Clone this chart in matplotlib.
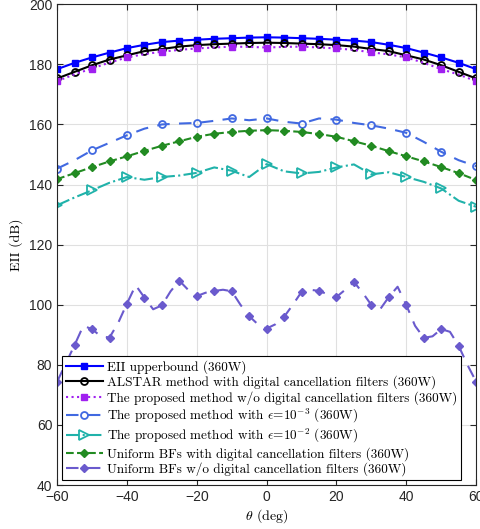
import numpy as np
import matplotlib.pyplot as plt

plt.rcParams['mathtext.fontset'] = 'cm'

# angle grid (deg), one value every 5 deg
theta = np.arange(-60, 61, 5)

eii_ub = [178.4, 180.5, 182.3, 183.9, 185.4, 186.5, 187.4, 187.9, 188.2, 188.5, 188.7, 188.9, 189.0,
          188.9, 188.7, 188.5, 188.2, 187.9, 187.4, 186.5, 185.4, 183.9, 182.3, 180.5, 178.4]
alstar = [175.3, 177.5, 179.7, 181.6, 183.0, 184.4, 185.1, 185.9, 186.4, 186.7, 186.9, 187.1, 187.2,
          187.1, 186.9, 186.7, 186.4, 185.9, 185.1, 184.4, 183.0, 181.6, 179.7, 177.5, 175.3]
prop_wo = [174.4, 176.7, 178.6, 180.6, 182.3, 183.4, 184.2, 184.8, 185.3, 185.6, 185.9, 185.8, 185.6,
           185.8, 185.9, 185.6, 185.3, 184.8, 184.0, 183.3, 182.3, 180.5, 178.4, 176.6, 174.4]
prop_e3 = [145.3, 148.1, 151.4, 153.9, 156.4, 158.6, 160.0, 160.3, 160.5, 161.2, 162.0, 161.4, 162.0,
           160.9, 160.3, 162.0, 161.6, 160.5, 159.7, 158.6, 157.2, 154.2, 150.9, 148.1, 146.1]
prop_e2 = [133.1, 135.7, 138.1, 140.6, 142.5, 141.6, 142.5, 143.0, 143.9, 145.7, 144.6, 142.5, 146.8,
           144.4, 143.7, 144.2, 145.7, 146.7, 143.4, 144.1, 142.5, 140.9, 138.7, 134.6, 132.6]
unif_with = [141.8, 143.8, 145.8, 147.7, 149.4, 151.2, 152.9, 154.4, 155.9, 156.9, 157.5, 157.9, 158.1,
             157.9, 157.5, 156.8, 155.9, 154.4, 152.9, 151.1, 149.4, 147.7, 145.8, 143.8, 141.5]

# uniform BFs w/o filters, read every 2.5 deg (curve wiggles between markers)
theta_f = np.arange(-60, 60.1, 2.5)
unif_wo = [74.4, 80.5, 86.6, 93.0, 91.9, 89.5, 89.1, 94.0, 100.4, 106.5, 102.4, 98.5, 99.8, 104.5,
           108.0, 105.0, 102.9, 104.0, 104.6, 105.0, 104.5, 100.0, 96.2, 93.5, 92.1, 93.5, 96.0, 100.0,
           104.3, 105.0, 104.6, 103.5, 102.6, 105.0, 107.6, 104.0, 99.9, 98.5, 102.6, 106.0, 99.9, 93.0,
           89.0, 89.5, 91.9, 91.0, 86.3, 80.0, 74.4]

labels = ['EII upperbound (360W)',
          'ALSTAR method with digital cancellation filters (360W)',
          'The proposed method w/o digital cancellation filters (360W)',
          r'The proposed method with $\epsilon$=10$^{-3}$ (360W)',
          r'The proposed method with $\epsilon$=10$^{-2}$ (360W)',
          'Uniform BFs with digital cancellation filters (360W)',
          'Uniform BFs w/o digital cancellation filters (360W)']

fig = plt.figure(figsize=(4.8, 5.29), dpi=100)
ax = fig.add_axes([0.119, 0.083, 0.873, 0.909])

lw = 1.5
ax.plot(theta, eii_ub, '-s', color='#0000ff', lw=lw, ms=4, mfc='#0000ff', label=labels[0])
ax.plot(theta, alstar, '-o', color='black', lw=lw, ms=5, mfc='none', mew=1.3, label=labels[1])
ax.plot(theta, prop_wo, ':s', color='#a020f0', lw=lw, ms=4, mfc='#a020f0', markevery=2, label=labels[2])
ax.plot(theta, prop_e3, '--o', color='#4169e1', lw=lw, ms=5, mfc='none', mew=1.3, markevery=2,
        dashes=(6, 4.5), label=labels[3])
ax.plot(theta, prop_e2, '-.>', color='#20b2aa', lw=lw, ms=6.5, mfc='none', mew=1.3, markevery=2,
        label=labels[4])
ax.plot(theta, unif_with, '--D', color='#228b22', lw=lw, ms=4, mfc='#228b22', label=labels[5])
ax.plot(theta_f, unif_wo, '--D', color='#6a5acd', lw=lw, ms=4.5, mfc='#6a5acd', markevery=2,
        dashes=(6, 4.5), label=labels[6])

ax.set_xlim(-60, 60)
ax.set_ylim(40, 200)
ax.set_xticks(np.arange(-60, 61, 20))
ax.set_yticks(np.arange(40, 201, 20))
ax.grid(True, color='#e0e0e0', lw=0.8)
ax.set_axisbelow(True)
ax.tick_params(direction='in', top=True, right=True, labelsize=10, length=4, colors='#262626')
for t in ax.get_xticklabels() + ax.get_yticklabels():
    t.set_fontfamily('Liberation Sans')
for s in ax.spines.values():
    s.set_color('#262626')
    s.set_linewidth(0.8)

ax.set_xlabel(r'$\theta$ (deg)', fontsize=10, family='cmr10', labelpad=2)
ax.set_ylabel('EII (dB)', fontsize=10, family='cmr10', labelpad=4)

leg = ax.legend(loc='upper left', bbox_to_anchor=(0.012, 0.268), prop={'family': 'cmr10', 'size': 9.5},
                handlelength=2.8, handletextpad=0.35, borderpad=0.28, labelspacing=0.14,
                fancybox=False, framealpha=1, edgecolor='black', borderaxespad=0)
leg.get_frame().set_linewidth(0.8)

fig.savefig('out.png', dpi=100)
